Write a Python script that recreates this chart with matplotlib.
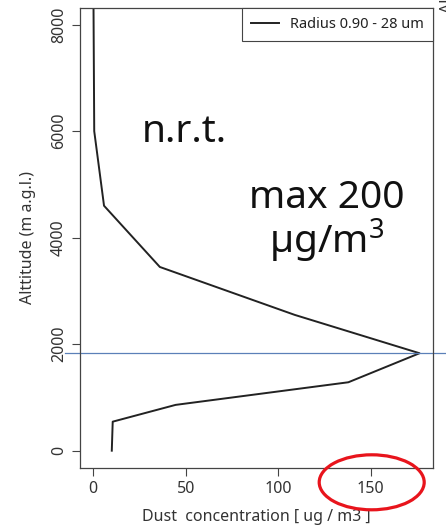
import matplotlib
matplotlib.use("Agg")
import matplotlib.pyplot as plt
from matplotlib.patches import Ellipse
from matplotlib.transforms import blended_transform_factory

# ---- data ----
conc = [0.0, 0.5, 5.8, 36.0, 109.0, 176.5, 138.0, 44.5, 10.5, 10.0]
alt = [9000, 6000, 4600, 3450, 2550, 1830, 1285, 860, 545, 0]
ref_alt = 1830
xticks = [0, 50, 100, 150]
yticks = [0, 2000, 4000, 6000, 8000]
legend_label = "Radius 0.90 - 28 um"
xlabel = "Dust  concentration [ ug / m3 ]"
ylabel = "Alttitude (m a.g.l.)"

plt.rcParams['font.family'] = ['Noto Sans', 'DejaVu Sans']
plt.rcParams['mathtext.fontset'] = 'custom'
plt.rcParams['mathtext.rm'] = 'Noto Sans'
plt.rcParams['mathtext.it'] = 'Noto Sans'

W, H = 446, 530
fig = plt.figure(figsize=(W / 100, H / 100), dpi=100)
ax = fig.add_axes([80 / W, 1 - 468 / H, (433 - 80) / W, (468 - 8) / H])

frame = '#444444'
ax.plot(conc, alt, color='#222222', lw=1.4, label=legend_label)
ax.set_xlim(-7.2, 183.8)
ax.set_ylim(-325, 8313)
ax.set_xticks(xticks)
ax.set_yticks(yticks)
for s in ax.spines.values():
    s.set_color(frame)
    s.set_linewidth(0.9)
ax.tick_params(direction='out', length=5.5, width=0.8, color=frame,
               labelsize=11.5, labelcolor='#333333', pad=4)
for lab in ax.get_yticklabels():
    lab.set_rotation(90)
    lab.set_va('center')

ax.set_xlabel(xlabel, fontsize=11.5, color='#333333')
ax.set_ylabel(ylabel, fontsize=11.5, color='#333333')
ax.xaxis.label.set_va('center')
ax.yaxis.label.set_va('center')
ax.xaxis.set_label_coords(256.5 / W, 1 - 517 / H, transform=fig.transFigure)
ax.yaxis.set_label_coords(28 / W, 1 - 238 / H, transform=fig.transFigure)

leg = ax.legend(loc='upper right', borderaxespad=0, fancybox=False,
                framealpha=1, edgecolor=frame, fontsize=10.5,
                handlelength=1.9, handletextpad=0.8, borderpad=0.6)
leg.get_frame().set_linewidth(0.8)
for t in leg.get_texts():
    t.set_color('#222222')

# horizontal reference line across the figure
tr = blended_transform_factory(fig.transFigure, ax.transData)
ax.plot([65 / W, 1.0], [ref_alt, ref_alt], transform=tr, color='#5b80b8',
        lw=0.9, clip_on=False)

# annotations
fig.text(184 / W, 1 - 141.7 / H, "n.r.t.", fontsize=28, ha='center',
         va='baseline', color='#111111')
fig.text(327 / W, 1 - 208.3 / H, "max 200", fontsize=28, ha='center',
         va='baseline', color='#111111')
fig.text(327 / W, 1 - 253.3 / H, "µg/m$^3$", fontsize=28, ha='center',
         va='baseline', color='#111111')

# partially visible rotated label at the right edge
fig.text(440.5 / W, 1 - 13 / H, ylabel, fontsize=11.5, rotation=90,
         ha='left', va='bottom', color='#333333')

ell = Ellipse((371.7 / W, 1 - 482.3 / H), 105 / W, 55 / H,
              transform=fig.transFigure, fill=False, edgecolor='#e8141c',
              lw=2.3, clip_on=False)
fig.add_artist(ell)

fig.savefig("out.png", dpi=100)
